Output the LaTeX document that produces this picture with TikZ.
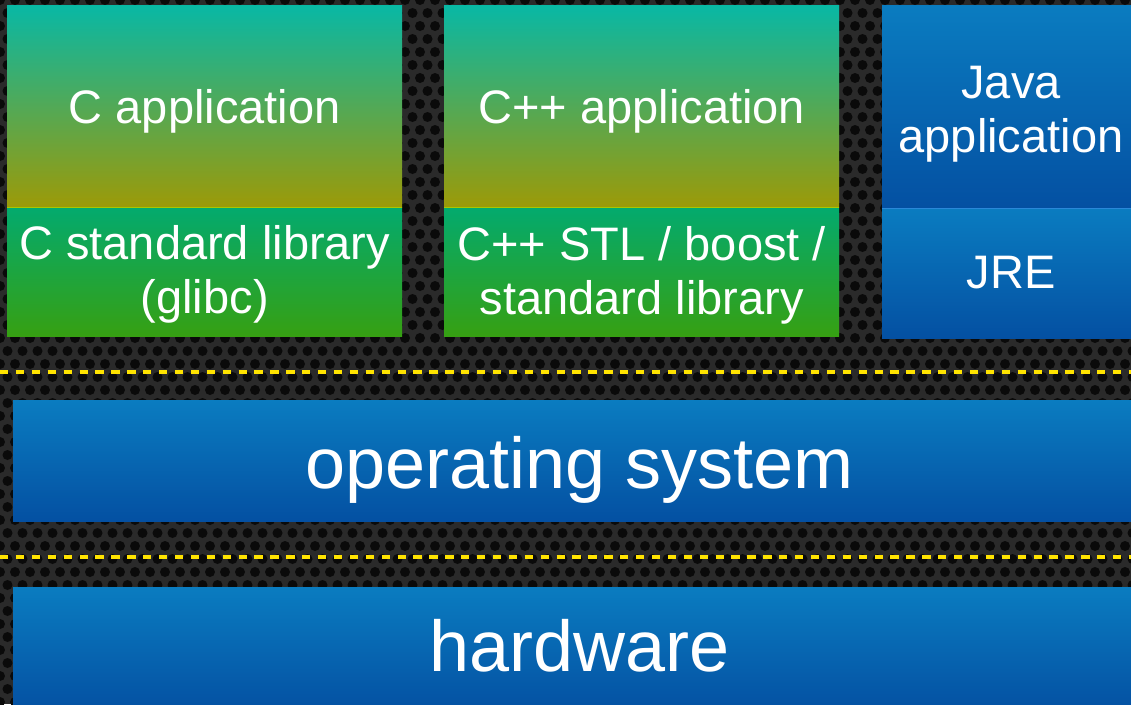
\documentclass[tikz,border=0pt]{standalone}
\usepackage{fontspec}
\setmainfont{Liberation Sans}
\definecolor{bgc}{HTML}{2A2A2A}
\definecolor{hole}{HTML}{0A0A0A}
\definecolor{appTop}{HTML}{08B8A5}
\definecolor{appBot}{HTML}{9C9A08}
\definecolor{libTop}{HTML}{03AA6E}
\definecolor{libBot}{HTML}{36A012}
\definecolor{blueTop}{HTML}{0A7CC0}
\definecolor{blueBot}{HTML}{0450A2}
\definecolor{dashy}{HTML}{FFE300}
\definecolor{seamG}{HTML}{A8C800}
\definecolor{seamB}{HTML}{2A88D8}
\begin{document}
\begin{tikzpicture}[x=1pt,y=-1pt,
  box/.style={rectangle, draw=none, inner sep=0pt, anchor=north west},
  appbox/.style={box, top color=appTop, bottom color=appBot},
  libbox/.style={box, top color=libTop, bottom color=libBot},
  bluebox/.style={box, top color=blueTop, bottom color=blueBot},
  lbl/.style={text=white, font=\fontsize{47}{54}\selectfont, inner sep=0pt, align=center, anchor=base},
  biglbl/.style={text=white, font=\fontsize{72}{80}\selectfont, inner sep=0pt, anchor=base},
  sep/.style={draw=dashy, line width=4pt, dash pattern=on 8.3pt off 7.6pt},
  seam/.style={line width=1.5pt}
]
\useasboundingbox (0,0) rectangle (1131,704);
% background
\fill[bgc] (0,0) rectangle (1131,704);
\foreach \r in {0,...,54}{
  \foreach \c in {0,...,76}{
    \fill[hole] ({\c*15+mod(\r,2)*7.5},{\r*13}) circle (5pt);
  }
}
% boxes
\node[appbox, minimum width=395pt, minimum height=202pt] (capp) at (7,5) {};
\node[libbox, minimum width=395pt, minimum height=129pt] (clib) at (7,207) {};
\node[appbox, minimum width=395pt, minimum height=202pt] (cppapp) at (444,5) {};
\node[libbox, minimum width=395pt, minimum height=129pt] (cpplib) at (444,207) {};
\node[bluebox, minimum width=258pt, minimum height=203pt] (japp) at (882,5) {};
\node[bluebox, minimum width=258pt, minimum height=130pt] (jre) at (882,208) {};
\node[bluebox, minimum width=1132pt, minimum height=121pt] (os) at (13,400) {};
\node[bluebox, minimum width=1132pt, minimum height=125pt] (hw) at (13,587) {};
% seams
\draw[seam, seamG] (capp.south west) -- (capp.south east);
\draw[seam, seamG] (cppapp.south west) -- (cppapp.south east);
\draw[seam, seamB] (japp.south west) -- (japp.south east);
% separators
\draw[sep] (0,372) -- (1131,372);
\draw[sep] (0,557) -- (1131,557);
% labels
\node[lbl] (tcapp) at (capp.center |- 0,123) {C application};
\node[lbl] (tclib) at (clib.center |- 0,313) {C standard library\\(glibc)};
\node[lbl] (tcppapp) at (cppapp.center |- 0,123) {C++ application};
\node[lbl] (tcpplib) at (cpplib.center |- 0,314) {C++ STL / boost /\\standard library};
\node[lbl] (tjapp) at (1011,152) {Java\\application};
\node[lbl] (tjre) at (1011,288) {JRE};
\node[biglbl] (tos) at (os.center |- 0,488) {operating system};
\node[biglbl] (thw) at (hw.center |- 0,671) {hardware};
\end{tikzpicture}
\end{document}
